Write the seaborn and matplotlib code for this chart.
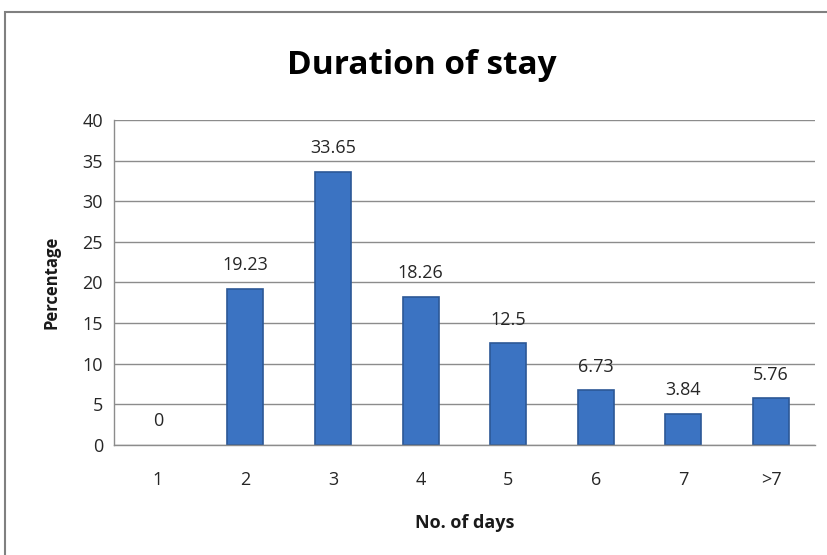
import matplotlib
matplotlib.use("Agg")
import matplotlib.pyplot as plt
import seaborn as sns
import pandas as pd
from matplotlib.patches import Rectangle

# data
days = ["1", "2", "3", "4", "5", "6", "7", ">7"]
percentage = [0, 19.23, 33.65, 18.26, 12.5, 6.73, 3.84, 5.76]
value_labels = ["0", "19.23", "33.65", "18.26", "12.5", "6.73", "3.84", "5.76"]

df = pd.DataFrame({"days": days, "pct": percentage})

sns.set_theme(style="white")
plt.rcParams["font.family"] = ["Open Sans", "DejaVu Sans"]

fig = plt.figure(figsize=(8.28, 5.55), dpi=100)
ax = fig.add_axes([0.1377, 0.198, 0.8463, 0.586])

sns.barplot(data=df, x="days", y="pct", color="#3B73C2", width=0.41,
            edgecolor="#2C5896", linewidth=1.2, saturation=1, ax=ax)
# no outline for empty bars
for p in ax.patches:
    if p.get_height() == 0:
        p.set_linewidth(0)

# labels above bars
for i, (v, lab) in enumerate(zip(percentage, value_labels)):
    ax.text(i, v + 1.8, lab, ha="center", va="bottom", fontsize=13, color="#262626")

ax.set_ylim(0, 40)
ax.set_yticks(range(0, 41, 5))
ax.set_xlim(-0.5, len(days) - 0.5)
ax.yaxis.grid(True, color="#8c8c8c", linewidth=1.0)
ax.set_axisbelow(True)
for s in ["top", "right"]:
    ax.spines[s].set_visible(False)
for s in ["left", "bottom"]:
    ax.spines[s].set_color("#8c8c8c")
    ax.spines[s].set_linewidth(1.0)
ax.tick_params(axis="both", length=0, labelsize=13, colors="#262626")
ax.tick_params(axis="x", pad=19)
ax.tick_params(axis="y", pad=8)

ax.set_xlabel("No. of days", fontsize=13, fontweight="bold", color="#1a1a1a", labelpad=18)
ax.set_ylabel("Percentage", fontsize=12, fontweight="bold", color="#1a1a1a", labelpad=16)

fig.text(0.51, 0.882, "Duration of stay", ha="center", va="center",
         fontsize=24, fontweight="bold", color="#000000")

# outer chart border
fig.patches.append(Rectangle((0.006, -0.1), 1.1, 1.078, transform=fig.transFigure,
                             fill=False, edgecolor="#808080", linewidth=1.5))

fig.savefig("out.png", dpi=100)
